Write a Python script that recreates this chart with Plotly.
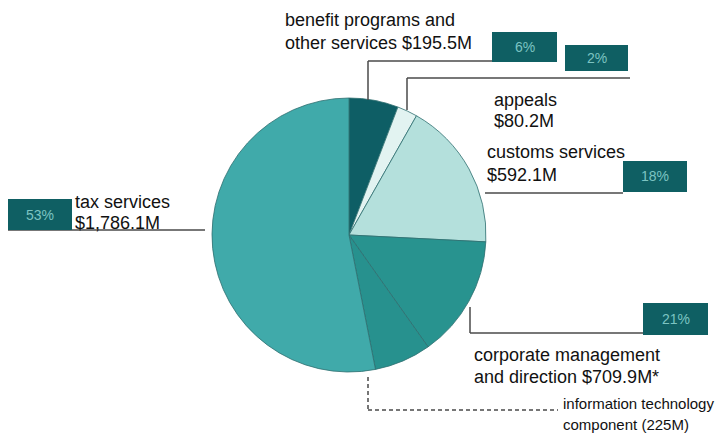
import plotly.graph_objects as go

W, H = 722, 435

# ---- data ----
categories = ["benefit programs and other services", "appeals", "customs services",
              "corporate management and direction", "tax services"]
values_musd = [195.5, 80.2, 592.1, 709.9, 1786.1]
it_component_musd = 225.0  # part of corporate management and direction

total = sum(values_musd)
pct = [round(v / total * 100) for v in values_musd]

# pie slices: corporate management is split into its non-IT part and the IT component
slice_labels = ["benefit programs", "appeals", "customs services",
                "corporate management (other)", "information technology component", "tax services"]
slice_values = [values_musd[0], values_musd[1], values_musd[2],
                values_musd[3] - it_component_musd, it_component_musd, values_musd[4]]
slice_colors = ["#0e5e65", "#e2f3f1", "#b4e0dc", "#28938f", "#27918e", "#40aaaa"]


def px(x):
    return x / W


def py(y):
    return 1 - y / H


cx, cy, r = 349, 235, 137

fig = go.Figure(go.Pie(
    labels=slice_labels,
    values=slice_values,
    sort=False,
    direction="clockwise",
    rotation=0,
    textinfo="none",
    hoverinfo="label+value",
    marker=dict(colors=slice_colors, line=dict(color="#2f6f70", width=0.8)),
    domain=dict(x=[px(cx - r), px(cx + r)], y=[py(cy + r), py(cy - r)]),
    showlegend=False,
))

LINE = dict(color="#4a4a4a", width=1.5)
BOX = "#0f5f63"
shapes = []
annotations = []


def seg(x0, y0, x1, y1, dash="solid"):
    shapes.append(dict(type="line", xref="paper", yref="paper",
                       x0=px(x0), y0=py(y0), x1=px(x1), y1=py(y1),
                       line=dict(color=LINE["color"], width=LINE["width"], dash=dash)))


def box(x0, y0, x1, y1, text):
    shapes.append(dict(type="rect", xref="paper", yref="paper",
                       x0=px(x0), y0=py(y0), x1=px(x1), y1=py(y1),
                       fillcolor=BOX, line=dict(width=0)))
    annotations.append(dict(xref="paper", yref="paper", x=px((x0 + x1) / 2), y=py((y0 + y1) / 2),
                            text=text, showarrow=False, xanchor="center", yanchor="middle",
                            font=dict(family="Liberation Sans, Arial", size=14, color="#7cc4c2")))


def label(x, y, text, size=18):
    annotations.append(dict(xref="paper", yref="paper", x=px(x), y=py(y), text=text,
                            showarrow=False, xanchor="left", yanchor="middle", align="left",
                            font=dict(family="Liberation Sans, Arial", size=size, color="#111111")))


# benefit programs
seg(368, 100, 368, 61)
seg(368, 61, 492, 61)
box(492, 32, 557, 62, f"{pct[0]}%")
label(283, 20, "benefit programs and")
label(283, 43, f"other services ${values_musd[0]}M")

# appeals
seg(407, 110, 407, 78)
seg(407, 78, 630, 78)
box(565, 45, 628, 71, f"{pct[1]}%")
label(492, 100, "appeals")
label(492, 121, f"${values_musd[1]}M")

# customs
seg(485, 193, 623, 193)
box(623, 161, 687, 192, f"{pct[2]}%")
label(485, 152, "customs services")
label(485, 175, f"${values_musd[2]}M")

# tax
seg(8, 230, 205, 230)
box(8, 199, 72, 230, f"{pct[4]}%")
label(73, 202, "tax services")
label(73, 223, f"${values_musd[4]:,.1f}M")

# corporate management
seg(470, 307, 470, 333)
seg(470, 333, 644, 333)
box(643, 303, 708, 335, f"{pct[3]}%")
label(472, 355, "corporate management")
label(472, 377, f"and direction ${values_musd[3]}M*")

# IT component (dashed)
seg(368, 377, 368, 410, dash="4px,3px")
seg(368, 410, 558, 410, dash="4px,3px")
label(561, 403, "information technology", size=15)
label(561, 424, f"component ({it_component_musd:.0f}M)", size=15)

fig.update_layout(
    width=W, height=H,
    margin=dict(l=0, r=0, t=0, b=0),
    paper_bgcolor="white", plot_bgcolor="white",
    shapes=shapes, annotations=annotations,
)

fig.write_html("out.html")
